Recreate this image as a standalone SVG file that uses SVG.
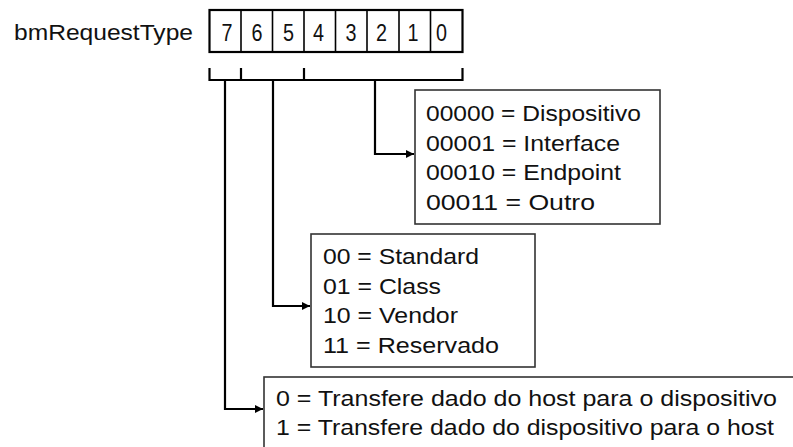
<svg xmlns="http://www.w3.org/2000/svg" width="793" height="447" viewBox="0 0 793 447">
<style>
text{font-family:"Liberation Sans",Arial,sans-serif;font-size:22.5px;fill:#111}
.bit{font-size:24px}
.box{fill:#fff;stroke:#333;stroke-width:1.6}
.con{fill:none;stroke:#000;stroke-width:2.2}
.reg{fill:#fff;stroke:#000;stroke-width:2.2}
.div{stroke:#000;stroke-width:1.6}
</style>
<defs>
<marker id="ah" markerUnits="userSpaceOnUse" markerWidth="10" markerHeight="10" refX="8" refY="4" orient="auto">
<path d="M0,0 L8,4 L0,8 z" fill="#000"/>
</marker>
</defs>
<rect width="793" height="447" fill="#fff"/>
<g id="register">
<text x="14" y="39.5" textLength="179" lengthAdjust="spacingAndGlyphs">bmRequestType</text>
<rect class="reg" x="209.5" y="10" width="253" height="42"/>
<line class="div" x1="241" y1="10" x2="241" y2="52"/>
<line class="div" x1="272.5" y1="10" x2="272.5" y2="52"/>
<line class="div" x1="304" y1="10" x2="304" y2="52"/>
<line class="div" x1="335.5" y1="10" x2="335.5" y2="52"/>
<line class="div" x1="367" y1="10" x2="367" y2="52"/>
<line class="div" x1="399" y1="10" x2="399" y2="52"/>
<line class="div" x1="430.5" y1="10" x2="430.5" y2="52"/>
<text class="bit" x="221.5" y="41" textLength="11" lengthAdjust="spacingAndGlyphs">7</text>
<text class="bit" x="251.5" y="41" textLength="11" lengthAdjust="spacingAndGlyphs">6</text>
<text class="bit" x="283" y="41" textLength="11" lengthAdjust="spacingAndGlyphs">5</text>
<text class="bit" x="313" y="41" textLength="11" lengthAdjust="spacingAndGlyphs">4</text>
<text class="bit" x="345.5" y="41" textLength="11" lengthAdjust="spacingAndGlyphs">3</text>
<text class="bit" x="376" y="41" textLength="11" lengthAdjust="spacingAndGlyphs">2</text>
<text class="bit" x="407.5" y="41" textLength="11" lengthAdjust="spacingAndGlyphs">1</text>
<text class="bit" x="436" y="41" textLength="11" lengthAdjust="spacingAndGlyphs">0</text>
</g>
<g id="bracket">
<path class="con" d="M209.5,68 V80 H462.5 V68 M241,68 V80 M304,68 V80"/>
</g>
<g id="connectors">
<path class="con" d="M375,80 V154 H414" marker-end="url(#ah)"/>
<path class="con" d="M273,80 V306 H310" marker-end="url(#ah)"/>
<path class="con" d="M225,80 V409 H263" marker-end="url(#ah)"/>
</g>
<g id="recipient">
<rect class="box" x="415" y="90" width="245" height="134"/>
<text x="426" y="121" textLength="215" lengthAdjust="spacingAndGlyphs">00000 = Dispositivo</text>
<text x="426" y="151" textLength="194" lengthAdjust="spacingAndGlyphs">00001 = Interface</text>
<text x="426" y="180" textLength="195" lengthAdjust="spacingAndGlyphs">00010 = Endpoint</text>
<text x="426" y="210" textLength="169" lengthAdjust="spacingAndGlyphs">00011 = Outro</text>
</g>
<g id="type">
<rect class="box" x="311" y="234" width="224" height="133"/>
<text x="323" y="264" textLength="156" lengthAdjust="spacingAndGlyphs">00 = Standard</text>
<text x="323" y="294" textLength="118" lengthAdjust="spacingAndGlyphs">01 = Class</text>
<text x="323" y="323" textLength="135" lengthAdjust="spacingAndGlyphs">10 = Vendor</text>
<text x="323" y="353" textLength="176" lengthAdjust="spacingAndGlyphs">11 = Reservado</text>
</g>
<g id="direction">
<rect class="box" x="264" y="377" width="560" height="90"/>
<text x="276" y="406" textLength="501" lengthAdjust="spacingAndGlyphs">0 = Transfere dado do host para o dispositivo</text>
<text x="276" y="435" textLength="498" lengthAdjust="spacingAndGlyphs">1 = Transfere dado do dispositivo para o host</text>
</g>
</svg>
